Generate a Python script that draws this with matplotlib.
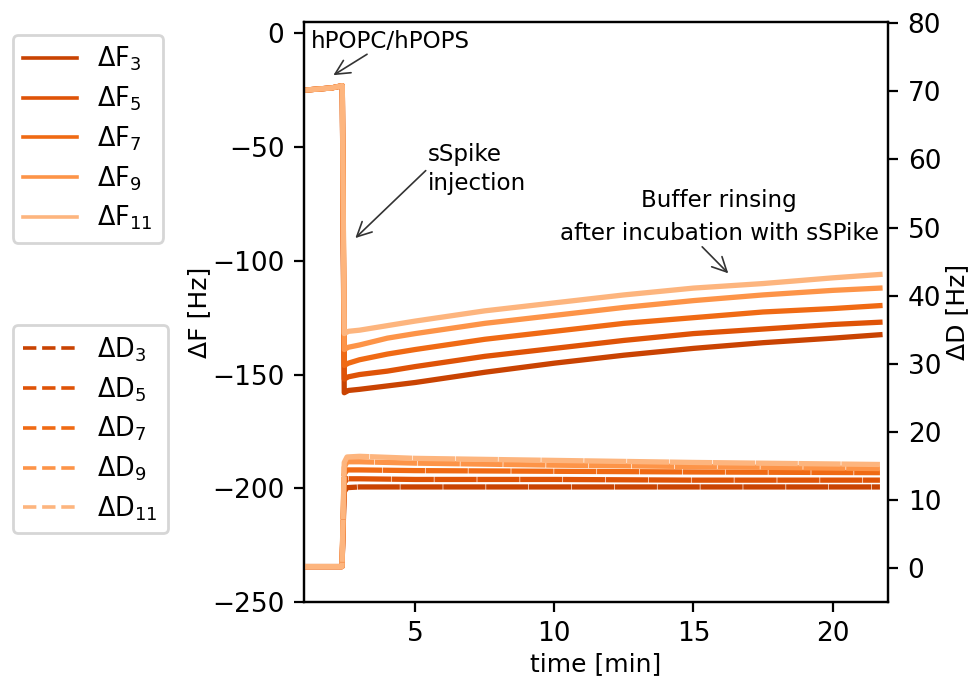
import numpy as np
import matplotlib
matplotlib.use("Agg")
import matplotlib.pyplot as plt
from matplotlib.lines import Line2D

# overtone labels and colours
overtones = ["3", "5", "7", "9", "11"]
colors = ["#c94302", "#df5307", "#f06a14", "#fd9448", "#fdb57e"]

# frequency shifts
t_f = [1.0, 1.5, 2.0, 2.38, 2.45, 2.6, 3.0, 4.0, 5.0, 7.5, 10.0, 12.5, 15.0, 17.5, 20.0, 21.7]
F3 = [-25, -24.5, -24, -23, -158, -157, -156.5, -155, -153.5, -149, -145, -141.5, -138.5, -136, -134, -132.5]
F5 = [-25, -24.5, -24, -23, -152, -151, -150, -148.5, -146.5, -142, -138.5, -135, -132, -130, -128, -127]
F7 = [-25, -24.5, -24, -23, -146, -145, -143.5, -141, -139, -134.5, -131, -127.5, -125, -122.5, -121, -119.7]
F9 = [-25, -24.5, -24, -23, -139, -138, -137, -134, -132, -127.5, -124, -120.5, -117.5, -115, -113, -112]
F11 = [-25, -24.5, -24, -23, -132, -131, -130.5, -128.5, -126.5, -122, -118.5, -115, -112, -110, -107.5, -106]

# dissipation shifts
t_d = [1.0, 2.0, 2.37, 2.45, 2.55, 3.0, 5.0, 10.0, 15.0, 21.7]
D3 = [0.2, 0.2, 0.2, 11.2, 11.8, 11.9, 11.9, 11.9, 11.9, 11.9]
D5 = [0.2, 0.2, 0.2, 12.5, 13.1, 13.1, 13.0, 13.0, 12.9, 12.9]
D7 = [0.2, 0.2, 0.2, 13.8, 14.4, 14.4, 14.3, 14.2, 14.1, 14.0]
D9 = [0.2, 0.2, 0.2, 14.8, 15.6, 15.6, 15.4, 15.1, 14.9, 14.6]
D11 = [0.2, 0.2, 0.2, 15.5, 16.3, 16.4, 16.1, 15.8, 15.5, 15.2]

F_all = [F3, F5, F7, F9, F11]
D_all = [D3, D5, D7, D9, D11]

plt.rcParams["font.size"] = 9
plt.rcParams["xtick.labelsize"] = 9.5
plt.rcParams["ytick.labelsize"] = 9.5

fig = plt.figure(figsize=(4.87, 3.4), dpi=200)
ax = fig.add_axes([0.312, 0.1147, 0.6, 0.853])
ax2 = ax.twinx()

for f, c in zip(F_all, colors):
    ax.plot(t_f, f, color=c, lw=1.9)
for d, c in zip(D_all, colors):
    ax2.plot(t_d, d, color=c, lw=1.9, dashes=(8, 0.12))

ax.set_xlim(1.0, 22.0)
ax.set_ylim(-250, 5)
ax2.set_ylim(-5, 80.2)
ax.set_xticks([5, 10, 15, 20])
ax.set_yticks([0, -50, -100, -150, -200, -250])
ax2.set_yticks(range(0, 81, 10))
ax.set_xlabel("time [min]", labelpad=1.5)
ax.set_ylabel("ΔF [Hz]", labelpad=0.5)
ax2.set_ylabel("ΔD [Hz]", labelpad=1.5)

arrow = dict(arrowstyle="->", color="#333333", lw=0.6, mutation_scale=13,
             shrinkA=1, shrinkB=0, patchA=None)
ax.annotate("hPOPC/hPOPS", xy=(2.06, -18.4), xytext=(1.24, -3.5),
            ha="left", va="center", fontsize=8.3,
            arrowprops=dict(arrow, relpos=(0.37, 0)))
ax.annotate("sSpike\ninjection", xy=(2.85, -90), xytext=(5.45, -59.5),
            ha="left", va="center", fontsize=8.3, linespacing=1.35,
            arrowprops=dict(arrow, relpos=(0, 0.5)))
ax.annotate("Buffer rinsing\nafter incubation with sSPike", xy=(16.25, -105.5),
            xytext=(15.93, -80.7), ha="center", va="center", fontsize=8.3,
            linespacing=1.55, arrowprops=dict(arrow, relpos=(0.44, 0)))

f_handles = [Line2D([], [], color=c, lw=1.3) for c in colors]
d_handles = [Line2D([], [], color=c, lw=1.3, ls="--") for c in colors]
fig.legend(f_handles, ["ΔF$_{%s}$" % o for o in overtones], loc="upper left",
           bbox_to_anchor=(0.013, 0.949), fontsize=9.2, handlelength=2.1,
           labelspacing=0.44, borderaxespad=0)
fig.legend(d_handles, ["ΔD$_{%s}$" % o for o in overtones], loc="upper left",
           bbox_to_anchor=(0.013, 0.522), fontsize=9.2, handlelength=2.1,
           labelspacing=0.44, borderaxespad=0)

fig.savefig("out.png", dpi=200)
